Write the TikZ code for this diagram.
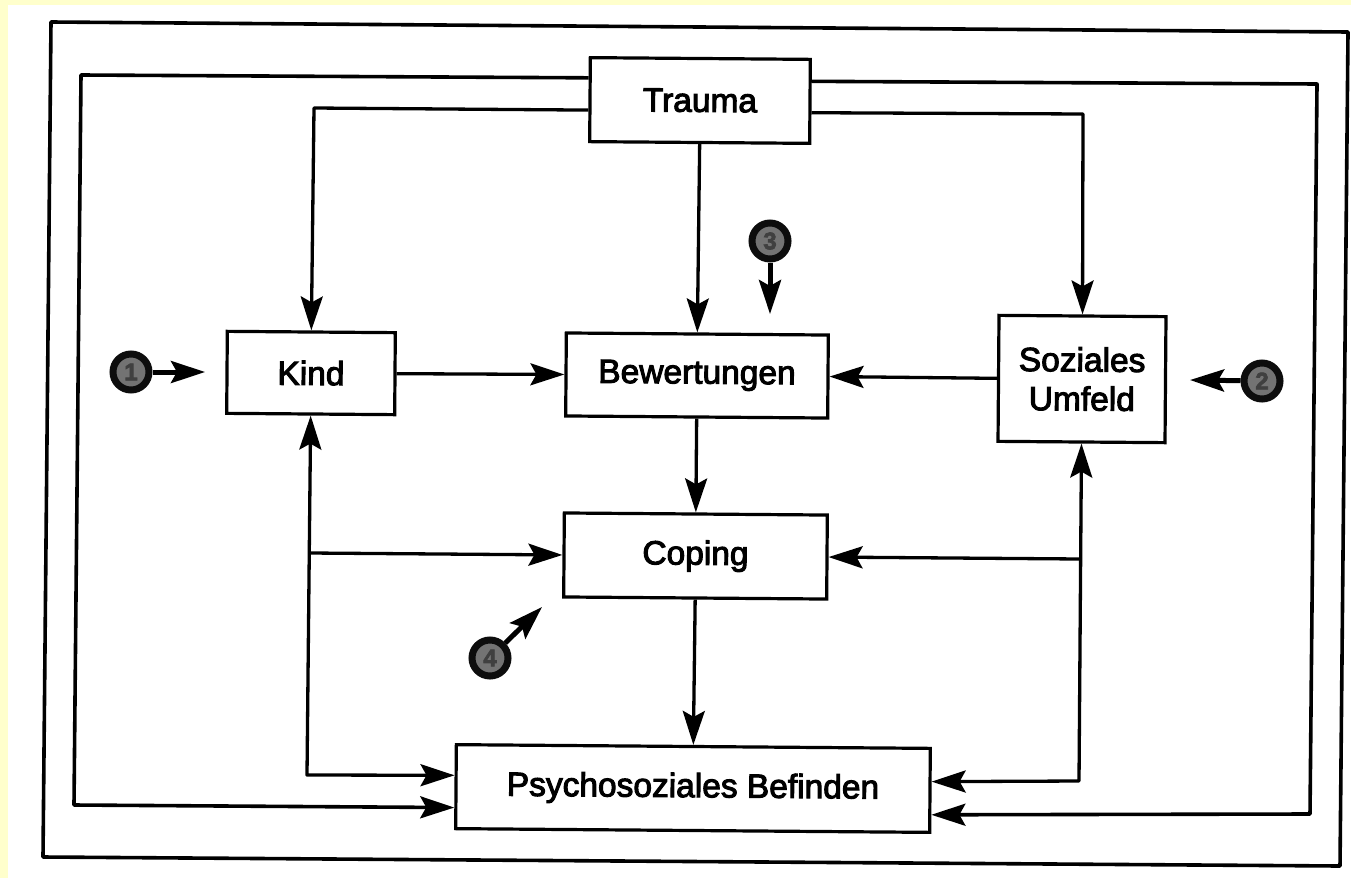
\documentclass[tikz,border=0pt]{standalone}
\usepackage{fontspec}
\setmainfont[FakeBold=3]{Liberation Sans}
\usetikzlibrary{arrows.meta,calc}
\definecolor{pageyellow}{HTML}{FFFFCC}
\tikzset{
  x=1pt,y=-1pt,
  box/.style={draw=black,line width=3.2pt,fill=white,inner sep=0pt,rotate=-0.45,align=center,font=\fontsize{33.5}{39}\selectfont,text=black},
  tip/.tip={Stealth[length=34pt,width=22pt,inset=6pt]},
  conn/.style={draw=black,line width=3.3pt,line join=round,tip-tip},
  link/.style={draw=black,line width=3.3pt,line join=round,-{tip}},
  loop/.style={draw=black,line width=3.6pt,line join=round,-{tip}},
  frame/.style={draw=black,line width=3.6pt,line join=round},
  badge/.style={circle,draw=black!95,line width=7pt,fill=black!55,minimum size=36pt,inner sep=0pt,font=\bfseries\fontsize{24}{24}\selectfont,text=black!75},
  point/.style={draw=black,line width=5pt,-{tip}},
}
\begin{document}
\begin{tikzpicture}
\useasboundingbox (0,0) rectangle (1351,878);
\fill[pageyellow] (0,0) rectangle (1351,878);
\fill[white] (8,5) rectangle (1351,878);
\draw[frame] (51,22) -- (1348,32) -- (1340,866) -- (43,857) -- cycle;

\node[box,minimum width=220pt,minimum height=84pt] (trauma) at (700,100.5) {Trauma};
\node[box,minimum width=168pt,minimum height=82pt] (kind) at (311,373) {Kind};
\node[box,minimum width=262pt,minimum height=83pt] (bew) at (697,375.5) {Bewertungen};
\node[box,minimum width=263pt,minimum height=84pt] (cop) at (695.5,556) {Coping};
\node[box,minimum width=167pt,minimum height=126pt] (soz) at (1082,379) {Soziales\\Umfeld};
\node[box,minimum width=474pt,minimum height=84pt] (psy) at (693,788.5) {\raisebox{-1.5pt}{Psychosoziales Befinden}};

\coordinate (tlu) at ($(trauma.north west)!0.25!(trauma.south west)$);
\coordinate (tll) at ($(trauma.north west)!0.62!(trauma.south west)$);
\coordinate (tru) at ($(trauma.north east)!0.27!(trauma.south east)$);
\coordinate (trl) at ($(trauma.north east)!0.63!(trauma.south east)$);
\coordinate (pl1) at ($(psy.north west)!0.37!(psy.south west)$);
\coordinate (pl2) at ($(psy.north west)!0.74!(psy.south west)$);
\coordinate (pr1) at ($(psy.north east)!0.40!(psy.south east)$);
\coordinate (pr2) at ($(psy.north east)!0.78!(psy.south east)$);

\coordinate (kb) at (307,775);
\coordinate (kj) at (310,553);
\coordinate (sb) at (1079,781);
\coordinate (sj) at (1080,559);

% outer loops
\draw[loop] (tlu) -- (81,75) -- (74,805) -- (pl2);
\draw[loop] (tru) -- (1317,84) -- (1310,814) -- (pr2);
% trauma outputs
\draw[link] (tll) -- (314,108) -- (kind.north);
\draw[link] (trl) -- (1083,114) -- (soz.north);
\draw[link] (trauma.south) -- (bew.north);
% horizontal and vertical flow
\draw[link] (kind.east) -- (bew.west);
\draw[link] (soz.west) -- (bew.east);
\draw[link] (bew.south) -- (cop.north);
\draw[link] (cop.south) -- (psy.north);
% two-way
\draw[conn] (kind.south) -- (kb) -- (pl1);
\draw[conn] (soz.south) -- (sb) -- (pr1);
\draw[link] (kj) -- (cop.west);
\draw[link] (sj) -- (cop.east);

% numbered markers
\node[badge] (n1) at (131,372) {1};
\node[badge] (n2) at (1262,381) {2};
\node[badge] (n3) at (770,241) {3};
\node[badge] (n4) at (490,658) {4};
\coordinate (e1) at (205,372);
\coordinate (e2) at (1190,380);
\coordinate (e3) at (770,314);
\coordinate (e4) at (542,607);
\draw[point] (n1) -- (e1);
\draw[point] (n2) -- (e2);
\draw[point] (n3) -- (e3);
\draw[point] (n4) -- (e4);
\end{tikzpicture}
\end{document}
